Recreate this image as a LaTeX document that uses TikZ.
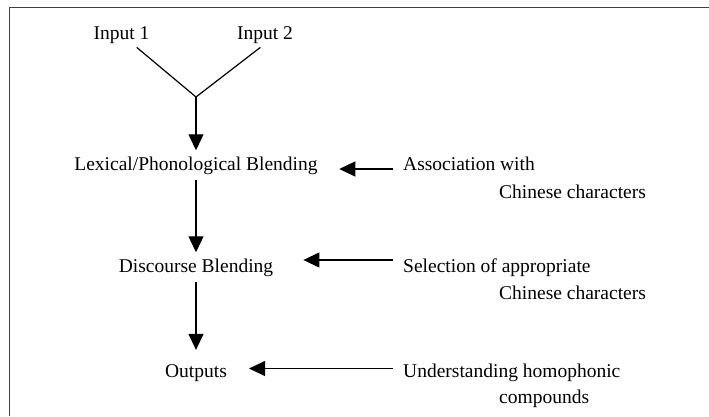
\documentclass[tikz,border=0pt]{standalone}
\usepackage{fontspec}
\setmainfont{Liberation Serif}
\usetikzlibrary{arrows.meta}
\begin{document}
\begin{tikzpicture}[x=1pt,y=-1pt,
        txt/.style={font=\fontsize{19.5}{23}\selectfont,inner sep=0pt,anchor=base},
        stage/.style={txt,inner sep=6pt},
        note/.style={txt,anchor=base west},
        flow/.style={line width=1.2pt,-{Triangle[length=16pt,width=15pt]}}]
    \useasboundingbox (0,0) rectangle (709,416);
    \draw[line width=1.6pt,black!75] (9.5,416)--(9.5,7.5)--(709,7.5);
    % the two inputs meet
    \node[txt,inner sep=4pt] (in1) at (121.5,39) {Input 1};
    \node[txt,inner sep=4pt] (in2) at (265,39) {Input 2};
    \coordinate (junc) at (196,97);
    \draw[line width=1.2pt] (in1)--(junc)--(in2.250);
    % stages
    \node[stage] (lex) at (196,170) {Lexical/Phonological Blending};
    \node[stage] (disc) at (196,272) {Discourse Blending};
    \node[stage] (outp) at (196,377) {Outputs};
    \draw[flow] (junc)--(lex);
    \draw[flow] (lex)--(disc);
    \draw[flow,shorten >=8pt] (disc)--(outp);
    % what feeds each stage
    \node[note] (assoc) at (403,170) {Association with};
    \node[note] (assocb) at (499,198) {Chinese characters};
    \node[note] (sel) at (403,272) {Selection of appropriate};
    \node[note] (selb) at (499,299) {Chinese characters};
    \node[note] (und) at (403,377) {Understanding homophonic};
    \node[note] (undb) at (499,403) {compounds};
    \coordinate (a1) at ([yshift=1pt]assoc.base west);
    \coordinate (a2) at ([yshift=12pt]sel.base west);
    \coordinate (a3) at ([yshift=8.5pt]und.base west);
    \draw[flow,shorten <=10pt,shorten >=15.5pt] (a1)--(a1-|lex.east);
    \draw[flow,shorten <=10pt,shorten >=24pt] (a2)--(a2-|disc.east);
    \draw[flow,shorten <=10pt,shorten >=16pt] (a3)--(a3-|outp.east);
\end{tikzpicture}
\end{document}
